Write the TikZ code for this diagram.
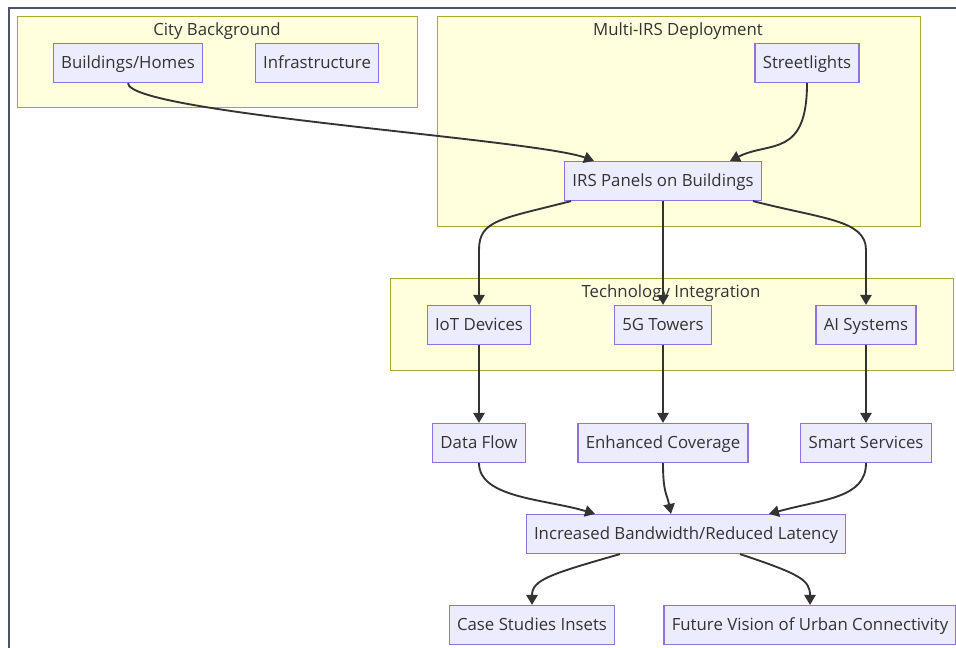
\documentclass[tikz,border=0pt]{standalone}
\usepackage{fontspec}
\setmainfont{Open Sans}
\usetikzlibrary{arrows.meta,calc}

\definecolor{clfill}{HTML}{FFFFDE}
\definecolor{clline}{HTML}{AAAA33}
\definecolor{ndfill}{HTML}{ECECFF}
\definecolor{ndline}{HTML}{9370DB}
\definecolor{ink}{HTML}{333333}
\definecolor{edgeframe}{HTML}{4A5568}

\tikzset{
  box/.style={draw=ndline, fill=ndfill, line width=0.9pt, text=ink,
              minimum height=29.25pt, inner xsep=5.8pt, inner ysep=0pt,
              text height=10.2pt, text depth=1.8pt},
  cluster/.style={draw=clline, fill=clfill, line width=0.75pt},
  ctitle/.style={text=ink, inner sep=0pt},
  flow/.style={draw=ink, line width=1.4pt,
               -{Triangle[length=7.5pt,width=8.5pt]}},
}

\begin{document}
\begin{tikzpicture}[x=0.75pt, y=-0.75pt, font=\fontsize{12.6}{15}\selectfont]
    \useasboundingbox (0,0) rectangle (956,648);
    \draw[edgeframe, line width=1.5pt] (956,8) -- (9,8) -- (9,648);

    \draw[cluster] (17,17) rectangle (417,108);
    \node[ctitle] (tcity) at (217,31) {City Background};
    \node[box] (bh) at (128,63) {Buildings/Homes};
    \node[box] (inf) at (317,63) {Infrastructure};

    \draw[cluster] (437,17) rectangle (920,227);
    \node[ctitle] (tirs) at (678,31) {Multi-IRS Deployment};
    \node[box] (sl) at (807,63) {Streetlights};
    \node[box] (irs) at (663,181) {IRS Panels on Buildings};

    \draw[cluster] (390,279) rectangle (953,370);
    \node[ctitle] (ttech) at (671,293) {Technology Integration};
    \node[box] (iot) at (479,325) {IoT Devices};
    \node[box] (tow) at (663,325) {5G Towers};
    \node[box] (ai) at (866,325) {AI Systems};

    \node[box] (df) at (479,443) {Data Flow};
    \node[box] (ec) at (663,443) {Enhanced Coverage};
    \node[box] (ss) at (866,443) {Smart Services};

    \node[box] (ib) at (686,534) {Increased Bandwidth/Reduced Latency};

    \node[box] (cs) at (532,625) {Case Studies Insets};
    \node[box] (fv) at (810,625) {Future Vision of Urban Connectivity};

    \draw[flow] (bh.south) .. controls +(0,30) and +(-60,-22) .. ($(irs.north)+(-69,0)$);
    \draw[flow] (sl.south) .. controls +(0,75) and +(40,-20) .. ($(irs.north)+(67,0)$);

    \draw[flow] ($(irs.south)+(-92,0)$) .. controls +(-70,18) and +(0,-30) .. ($(iot.north)+(0,-55)$) -- (iot.north);
    \draw[flow] (irs.south) -- (tow.north);
    \draw[flow] ($(irs.south)+(90,0)$) .. controls +(70,18) and +(0,-30) .. ($(ai.north)+(0,-55)$) -- (ai.north);

    \draw[flow] (iot.south) -- (df.north);
    \draw[flow] (tow.south) -- (ec.north);
    \draw[flow] (ai.south) -- (ss.north);

    \draw[flow] (df.south) .. controls +(0,35) and +(-50,-15) .. ($(ib.north)+(-91,0)$);
    \draw[flow] (ec.south) .. controls +(0,30) and +(-4,-20) .. ($(ib.north)+(-15,0)$);
    \draw[flow] (ss.south) .. controls +(0,35) and +(55,-15) .. ($(ib.north)+(83,0)$);

    \draw[flow] ($(ib.south)+(-66,0)$) .. controls +(-70,20) and +(0,-25) .. (cs.north);
    \draw[flow] ($(ib.south)+(54,0)$) .. controls +(60,20) and +(0,-25) .. (fv.north);
\end{tikzpicture}
\end{document}
